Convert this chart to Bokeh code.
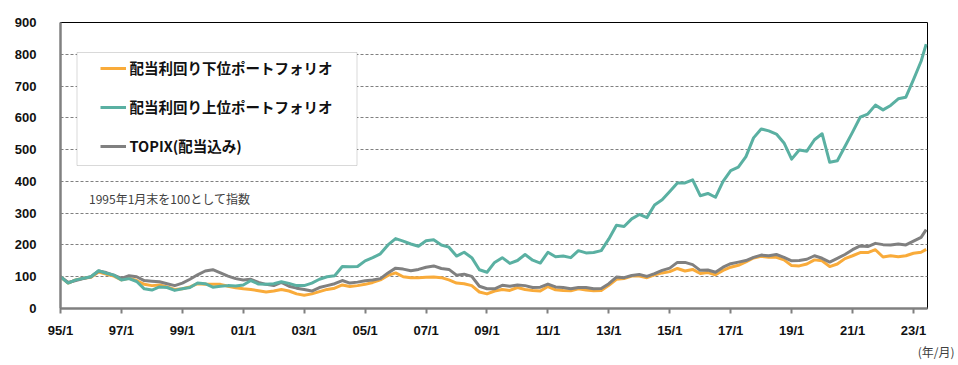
from bokeh.plotting import figure
from bokeh.models import FixedTicker, Range1d, Legend, LegendItem, BoxAnnotation, Label, Title
from bokeh.embed import file_html
from bokeh.resources import INLINE

# quarterly observation months (1995/1 .. 2023/4) + last month 2023/6
periods = [f"{y}-{m:02d}" for y in range(1995, 2024) for m in (1, 4, 7, 10)][:114] + ["2023-06"]

low_yield = [
    100, 80, 90, 95,
    98, 115, 108, 102,
    90, 95, 88, 76,
    72, 74, 68, 60,
    62, 68, 78, 76,
    76, 76, 70, 65,
    62, 60, 56, 52,
    55, 60, 55, 46,
    42, 46, 53, 60,
    64, 74, 69, 72,
    76, 82, 90, 104,
    112, 100, 97, 97,
    98, 99, 97, 90,
    80, 78, 72, 52,
    46, 55, 60, 57,
    66, 60, 57, 55,
    69, 59, 57, 56,
    62, 58, 56, 57,
    73, 92, 94, 102,
    102, 97, 106, 112,
    116, 126, 118, 123,
    110, 113, 106, 120,
    130, 136, 147, 159,
    164, 161, 161, 153,
    135, 134, 140, 153,
    150, 132, 140, 157,
    166, 176, 176, 185,
    162, 166, 163, 166,
    174, 177, 186,
]

high_yield = [
    100, 80, 90, 95,
    100, 119, 111, 105,
    90, 94, 85, 62,
    58, 68, 66, 57,
    62, 66, 80, 78,
    67, 70, 72, 71,
    74, 88, 77, 76,
    78, 84, 79, 72,
    72, 80, 92, 100,
    103, 132, 131, 132,
    150, 160, 172, 200,
    220, 212, 203, 196,
    213, 216, 200, 193,
    165, 177, 160, 122,
    114, 145, 160, 142,
    151, 170, 152, 143,
    177, 163, 165, 160,
    182, 175, 176, 182,
    219, 262, 258, 282,
    296, 286, 326, 342,
    368, 395, 395, 405,
    355, 362, 350, 400,
    434, 445, 478, 537,
    565, 559, 549, 521,
    470, 499, 495, 531,
    550, 460, 465, 510,
    555, 602, 612, 640,
    625, 639, 660, 665,
    720, 778, 832,
]

topix = [
    100, 82, 88, 94,
    100, 118, 113, 105,
    95, 103, 100, 88,
    86, 84, 78, 72,
    80, 92, 106, 118,
    122, 112, 102, 94,
    90, 92, 82, 76,
    72, 82, 70, 64,
    60, 55, 66, 72,
    78, 88, 80, 83,
    87, 90, 94, 112,
    127, 124, 119, 123,
    130, 134, 126, 123,
    105, 108, 101, 70,
    62, 62, 73, 70,
    74, 72, 66, 67,
    77, 68, 66, 62,
    66, 66, 62, 63,
    78, 99, 97, 104,
    107, 101, 110, 120,
    127, 145, 145, 138,
    120, 121, 114, 130,
    141, 146, 151, 161,
    168, 166, 170, 161,
    150, 151, 155, 166,
    158, 146, 158, 170,
    185, 197, 195, 205,
    201, 200, 203, 200,
    212, 224, 248,
]

tick_years = list(range(1995, 2024, 2))
tick_labels = {t: f"{t % 100:02d}/1" for t in tick_years}
y_ticks = list(range(0, 901, 100))
grid_ticks = list(range(100, 900, 100))

names = ["配当利回り下位ポートフォリオ", "配当利回り上位ポートフォリオ", "TOPIX(配当込み)"]
colors = ["#F9AB3A", "#5AB0A2", "#808080"]

x = [int(s[:4]) + (int(s[5:7]) - 1) / 12 for s in periods]

p = figure(width=958, height=365, output_backend="svg", toolbar_location=None,
           x_range=Range1d(1995, 2023.46), y_range=Range1d(0, 900),
           min_border_left=60, min_border_right=31, min_border_top=22, min_border_bottom=57,
           background_fill_color="white", border_fill_color="white")

r_low = p.line(x, low_yield, line_width=3, color=colors[0], line_join="round")
r_top = p.line(x, topix, line_width=3, color=colors[2], line_join="round")
r_high = p.line(x, high_yield, line_width=3, color=colors[1], line_join="round")

tick_font = "Liberation Sans"
p.xaxis.ticker = FixedTicker(ticks=tick_years)
p.xaxis.major_label_overrides = tick_labels
p.xaxis.axis_line_color = "#808080"
p.xaxis.axis_line_width = 2.5
p.xaxis.major_tick_line_color = "#808080"
p.xaxis.major_tick_line_width = 2
p.xaxis.major_tick_in = 0
p.xaxis.major_tick_out = 5
p.xaxis.minor_tick_line_color = None
p.xaxis.major_label_standoff = 9

p.yaxis.ticker = FixedTicker(ticks=y_ticks)
p.yaxis.axis_line_color = "#808080"
p.yaxis.axis_line_width = 2.5
p.yaxis.major_tick_line_color = None
p.yaxis.minor_tick_line_color = None
p.yaxis.major_label_standoff = 18

for ax in (p.xaxis, p.yaxis):
    ax.major_label_text_font = tick_font
    ax.major_label_text_font_style = "bold"
    ax.major_label_text_font_size = "13px"
    ax.major_label_text_color = "#111111"

p.xgrid.grid_line_color = None
p.ygrid.ticker = FixedTicker(ticks=grid_ticks)
p.ygrid.grid_line_color = "#808080"
p.ygrid.grid_line_dash = "3 2"
p.ygrid.grid_line_width = 1

p.outline_line_color = "black"
p.outline_line_width = 1
p.outline_line_alpha = 1

box = BoxAnnotation(left=16.5, right=296.5, bottom=143, top=256,
                    left_units="screen", right_units="screen",
                    bottom_units="screen", top_units="screen",
                    fill_color="white", fill_alpha=1,
                    line_color="#808080", line_width=1)
p.add_layout(box)

legend = Legend(items=[LegendItem(label=names[0], renderers=[r_low]),
                       LegendItem(label=names[1], renderers=[r_high]),
                       LegendItem(label=names[2], renderers=[r_top])],
                location=(39.5, 152), padding=0, margin=0, spacing=18,
                label_height=20, glyph_height=20, glyph_width=26, label_standoff=4,
                border_line_color=None, background_fill_alpha=0,
                label_text_font="Noto Sans CJK JP", label_text_font_style="bold",
                label_text_font_size="14.5px", label_text_color="#111111")
p.add_layout(legend)

note = Label(x=28.5, y=110.5, x_units="screen", y_units="screen",
             text="1995年1月末を100として指数", text_font="Noto Sans CJK JP",
             text_font_size="12px", text_color="#404040", text_baseline="middle")
p.add_layout(note)

unit = Title(text="(年/月)", align="right", offset=-27, standoff=0,
             text_font="Noto Sans CJK JP", text_font_size="12px",
             text_font_style="normal", text_color="#404040")
p.add_layout(unit, "below")

open("out.html", "w").write(file_html(p, INLINE))
